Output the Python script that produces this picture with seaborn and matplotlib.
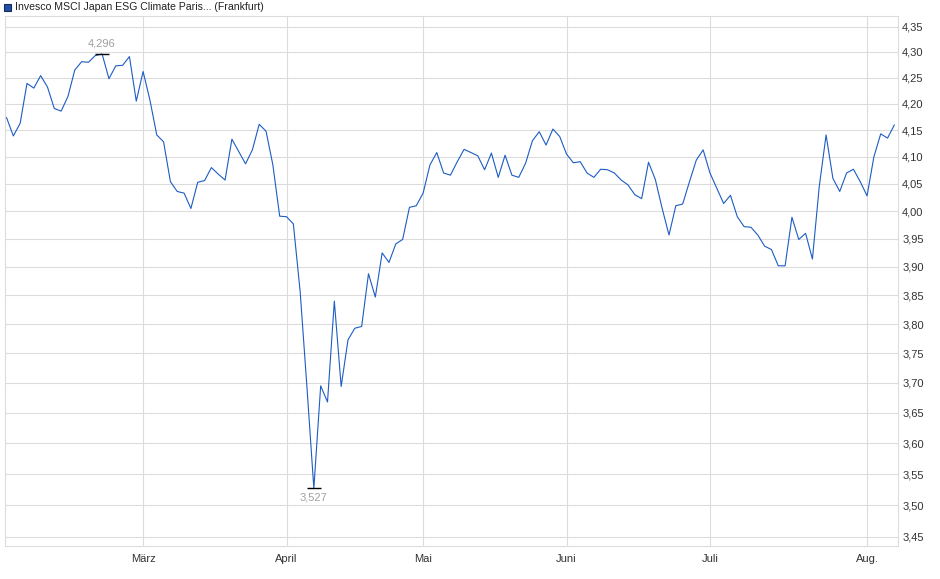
import numpy as np
import pandas as pd
import matplotlib
matplotlib.use("Agg")
import matplotlib.pyplot as plt
from matplotlib.patches import Rectangle
from matplotlib.ticker import FixedLocator, NullLocator, FuncFormatter, NullFormatter
import seaborn as sns

# -------------------------------
# data (closing prices, Frankfurt trading days Feb 3 - Aug 7)
# -------------------------------
title = "Invesco MSCI Japan ESG Climate Paris... (Frankfurt)"
holidays = ["2025-04-18", "2025-04-21", "2025-05-01"]

prices = [
    4.174, 4.139, 4.163, 4.239, 4.230, 4.254, 4.232, 4.191, 4.186, 4.214,
    4.265, 4.281, 4.280, 4.293, 4.296, 4.248, 4.273, 4.274, 4.291, 4.205,
    4.262, 4.207, 4.141, 4.128, 4.054, 4.036, 4.033, 4.005, 4.053, 4.056,
    4.080, 4.068, 4.057, 4.133, 4.110, 4.087, 4.113, 4.161, 4.148, 4.085,
    3.991, 3.990, 3.977, 3.856, 3.691, 3.527, 3.695, 3.668, 3.840, 3.694,
    3.773, 3.793, 3.796, 3.888, 3.847, 3.925, 3.908, 3.941, 3.949, 4.007,
    4.010, 4.033, 4.085, 4.108, 4.070, 4.066, 4.091, 4.114, 4.108, 4.102,
    4.076, 4.107, 4.062, 4.103, 4.066, 4.062, 4.088, 4.130, 4.147, 4.122,
    4.152, 4.138, 4.105, 4.089, 4.091, 4.070, 4.062, 4.077, 4.076, 4.070,
    4.057, 4.048, 4.030, 4.023, 4.090, 4.058, 4.005, 3.957, 4.010, 4.013,
    4.054, 4.094, 4.113, 4.070, 4.042, 4.014, 4.029, 3.990, 3.972, 3.971,
    3.957, 3.937, 3.931, 3.902, 3.902, 3.989, 3.949, 3.960, 3.914, 4.045,
    4.141, 4.060, 4.036, 4.070, 4.077, 4.054, 4.028, 4.100, 4.143, 4.135,
    4.160,
]

month_labels = ["März", "April", "Mai", "Juni", "Juli", "Aug."]
y_ticks = [3.45, 3.50, 3.55, 3.60, 3.65, 3.70, 3.75, 3.80, 3.85, 3.90,
           3.95, 4.00, 4.05, 4.10, 4.15, 4.20, 4.25, 4.30, 4.35]

days = pd.bdate_range("2025-02-03", "2025-08-07")
days = days[~days.isin(pd.to_datetime(holidays))]
df = pd.DataFrame({"date": days, "price": prices})
df["idx"] = np.arange(len(df))

# first trading day of each month (except Feb) -> month ticks
first = df.groupby(df["date"].dt.to_period("M"))["idx"].min().values[1:]

# -------------------------------
# plot
# -------------------------------
sns.set_style("white")
plt.rcParams["font.family"] = ["Liberation Sans", "DejaVu Sans"]

W, H = 940, 579
fig = plt.figure(figsize=(W / 100, H / 100), dpi=100)
ax = fig.add_axes([5 / W, 1 - 546 / H, 893 / W, 530 / H])

grid_c = "#dcdcdc"
line_c = "#1c5cc4"

sns.lineplot(data=df, x="idx", y="price", ax=ax, color=line_c, linewidth=0.8)

ax.set_yscale("log")
ax.set_ylim(3.4358, 4.3708)
ax.set_xlim(-0.22, 130.53)

ax.yaxis.set_major_locator(FixedLocator(y_ticks))
ax.yaxis.set_minor_locator(NullLocator())
ax.yaxis.set_minor_formatter(NullFormatter())
ax.yaxis.set_major_formatter(FuncFormatter(lambda v, p: f"{v:.2f}".replace(".", ",")))
ax.yaxis.tick_right()
ax.tick_params(axis="y", length=0, pad=3, labelsize=8, labelcolor="#333333")

ax.set_xticks(first)
ax.set_xticklabels(month_labels)
ax.tick_params(axis="x", length=3, width=0.7, color=grid_c, pad=3, labelsize=8,
               labelcolor="#333333")

ax.grid(True, color=grid_c, linewidth=0.8)
for s in ax.spines.values():
    s.set_color(grid_c)
    s.set_linewidth(0.8)
ax.set_xlabel("")
ax.set_ylabel("")

# high / low markers
hi = int(np.argmax(prices))
lo = int(np.argmin(prices))
ax.plot(hi, prices[hi], marker="_", markersize=10, color="black", mew=1)
ax.plot(lo, prices[lo], marker="_", markersize=10, color="black", mew=1)
ax.annotate(f"{prices[hi]:.3f}".replace(".", ","), (hi, prices[hi]),
            xytext=(0, 4), textcoords="offset points", ha="center", va="bottom",
            fontsize=8, color="#a0a0a0")
ax.annotate(f"{prices[lo]:.3f}".replace(".", ","), (lo, prices[lo]),
            xytext=(0, -3), textcoords="offset points", ha="center", va="top",
            fontsize=8, color="#a0a0a0")

# legend-like title
fig.patches.append(Rectangle((4 / W, 1 - 11 / H), 7 / W, 7 / H, transform=fig.transFigure,
                             facecolor="#1c4fae", edgecolor="#1a2a50", linewidth=0.8))
fig.text(15 / W, 1 - 7.5 / H, title, fontsize=7.6, color="#222222", va="center", ha="left")

fig.savefig("out.png", dpi=100)
